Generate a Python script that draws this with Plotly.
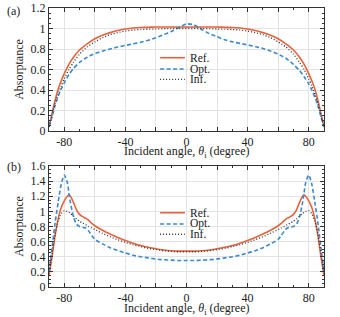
import plotly.graph_objects as go
from plotly.subplots import make_subplots

# ---------------- data ----------------
angles_a = [-90, -88, -86, -84, -82, -80, -77, -74, -70, -65, -60, -55, -50, -45, -40, -35, -30, -25, -20, -15, -10, -5, 0,
            5, 10, 15, 20, 25, 30, 35, 40, 45, 50, 55, 60, 65, 70, 74, 77, 80, 82, 84, 86, 88, 90]
ref_a = [0.04, 0.17, 0.30, 0.41, 0.49, 0.56, 0.65, 0.72, 0.79, 0.85, 0.90, 0.935, 0.96, 0.98, 0.995, 1.005, 1.01, 1.012, 1.015, 1.015, 1.015, 1.015, 1.015,
         1.015, 1.015, 1.015, 1.015, 1.012, 1.01, 1.005, 0.995, 0.98, 0.96, 0.935, 0.90, 0.85, 0.79, 0.72, 0.65, 0.56, 0.49, 0.41, 0.30, 0.17, 0.04]
opt_a = [0.04, 0.14, 0.25, 0.34, 0.41, 0.47, 0.55, 0.61, 0.67, 0.72, 0.755, 0.78, 0.80, 0.82, 0.835, 0.85, 0.865, 0.885, 0.91, 0.94, 0.97, 1.01, 1.045,
         1.035, 0.99, 0.95, 0.92, 0.89, 0.87, 0.855, 0.84, 0.825, 0.805, 0.78, 0.75, 0.71, 0.65, 0.59, 0.53, 0.46, 0.40, 0.33, 0.25, 0.14, 0.04]
inf_a = [0.04, 0.15, 0.27, 0.36, 0.44, 0.51, 0.60, 0.67, 0.75, 0.82, 0.87, 0.91, 0.94, 0.96, 0.975, 0.985, 0.99, 0.993, 0.995, 0.998, 1.0, 1.0, 1.0,
         1.0, 1.0, 0.998, 0.995, 0.993, 0.99, 0.985, 0.975, 0.96, 0.94, 0.91, 0.87, 0.82, 0.75, 0.67, 0.60, 0.51, 0.44, 0.36, 0.27, 0.15, 0.04]

angles_b = [-90, -88, -86, -84, -82, -80, -78, -77, -76, -74, -72, -70, -68, -66, -64, -62, -60, -55, -50, -45, -40, -35, -30, -25, -20, -15, -10, -5, 0,
            5, 10, 15, 20, 25, 30, 35, 40, 45, 50, 55, 60, 62, 64, 66, 68, 70, 72, 74, 76, 77, 78, 80, 82, 84, 86, 88, 90]
ref_b = [0.15, 0.40, 0.68, 0.90, 1.05, 1.14, 1.20, 1.215, 1.20, 1.12, 1.02, 0.96, 0.93, 0.91, 0.88, 0.84, 0.81, 0.75, 0.70, 0.655, 0.615, 0.58, 0.55, 0.525, 0.505, 0.49, 0.48, 0.475, 0.475,
         0.475, 0.48, 0.49, 0.505, 0.525, 0.55, 0.58, 0.615, 0.655, 0.70, 0.75, 0.81, 0.84, 0.88, 0.91, 0.93, 0.96, 1.02, 1.12, 1.20, 1.215, 1.20, 1.14, 1.05, 0.90, 0.68, 0.40, 0.15]
opt_b = [0.20, 0.52, 0.85, 1.12, 1.36, 1.48, 1.38, 1.25, 1.12, 0.93, 0.83, 0.80, 0.79, 0.78, 0.74, 0.68, 0.63, 0.57, 0.52, 0.48, 0.45, 0.42, 0.40, 0.385, 0.37, 0.36, 0.355, 0.35, 0.35,
         0.35, 0.355, 0.36, 0.37, 0.385, 0.40, 0.42, 0.45, 0.48, 0.52, 0.57, 0.63, 0.68, 0.74, 0.78, 0.79, 0.80, 0.83, 0.93, 1.12, 1.25, 1.38, 1.48, 1.36, 1.12, 0.85, 0.52, 0.20]
inf_b = [0.20, 0.45, 0.70, 0.87, 0.97, 1.01, 1.0, 0.99, 0.97, 0.94, 0.90, 0.87, 0.845, 0.825, 0.80, 0.78, 0.76, 0.71, 0.665, 0.625, 0.59, 0.56, 0.535, 0.51, 0.495, 0.48, 0.47, 0.465, 0.465,
         0.465, 0.47, 0.48, 0.495, 0.51, 0.535, 0.56, 0.59, 0.625, 0.665, 0.71, 0.76, 0.78, 0.80, 0.825, 0.845, 0.87, 0.90, 0.94, 0.97, 0.99, 1.0, 1.01, 0.97, 0.87, 0.70, 0.45, 0.20]

series_names = ["Ref.", "Opt.", "Inf."]
x_tickvals = [-80, -60, -40, -20, 0, 20, 40, 60, 80]
x_ticktext = ["-80", "", "-40", "", "0", "", "40", "", "80"]
ya_tickvals = [0, 0.2, 0.4, 0.6, 0.8, 1.0, 1.2]
ya_ticktext = ["0", "0.2", "0.4", "0.6", "0.8", "1", "1.2"]
yb_tickvals = [0, 0.2, 0.4, 0.6, 0.8, 1.0, 1.2, 1.4, 1.6]
yb_ticktext = ["0", "0.2", "0.4", "0.6", "0.8", "1", "1.2", "1.4", "1.6"]
x_title = "Incident angle, <i>θ</i><sub>i</sub> (degree)"
y_title = "Absorptance"

# ---------------- styles ----------------
FONT = "Liberation Serif"
C_REF = "#E5633B"
C_OPT = "#3A88D0"
C_INF = "#333333"
styles = [dict(color=C_REF, width=1.6, dash="solid", shape="spline", smoothing=0.6),
          dict(color=C_OPT, width=1.6, dash="4px,2.5px", shape="spline", smoothing=0.6),
          dict(color=C_INF, width=1.3, dash="1px,2px", shape="spline", smoothing=0.6)]

fig = make_subplots(rows=2, cols=1)

for row, xs, ys in [(1, angles_a, (ref_a, opt_a, inf_a)), (2, angles_b, (ref_b, opt_b, inf_b))]:
    for name, y, st in zip(series_names, ys, styles):
        fig.add_trace(go.Scatter(x=xs, y=y, mode="lines", name=name, line=st,
                                 showlegend=False, hoverinfo="skip"), row=row, col=1)

axis_common = dict(showline=True, linecolor="#333", linewidth=1, mirror="allticks",
                   ticks="inside", ticklen=4, tickcolor="#333", tickwidth=1,
                   showgrid=True, gridcolor="#e3e3e3", gridwidth=1, zeroline=False,
                   automargin=False,
                   tickfont=dict(family=FONT, size=12, color="#222"))

for r in (1, 2):
    fig.update_xaxes(range=[-90, 90], tickmode="array", tickvals=x_tickvals, ticktext=x_ticktext,
                     minor=dict(dtick=10, tick0=0, ticks="inside", ticklen=2, tickcolor="#333", showgrid=False),
                     ticklabelstandoff=0,
                     row=r, col=1, **axis_common)
fig.update_yaxes(range=[0, 1.2], domain=[0.559, 1.0], tickmode="array", tickvals=ya_tickvals, ticktext=ya_ticktext,
                 minor=dict(dtick=0.05, tick0=0, ticks="inside", ticklen=2, tickcolor="#333", showgrid=False),
                 title=dict(text=y_title, font=dict(family=FONT, size=12, color="#222"), standoff=4),
                 row=1, col=1, **axis_common)
fig.update_yaxes(range=[0, 1.6], domain=[0.0, 0.4337], tickmode="array", tickvals=yb_tickvals, ticktext=yb_ticktext,
                 minor=dict(dtick=0.05, tick0=0, ticks="inside", ticklen=2, tickcolor="#333", showgrid=False),
                 title=dict(text=y_title, font=dict(family=FONT, size=12, color="#222"), standoff=4),
                 row=2, col=1, **axis_common)

# ---------------- legends (drawn inside each panel) ----------------
leg_x0, leg_x1, leg_tx = 0.404, 0.494, 0.505
leg_rows = {"x": [0.596, 0.504, 0.42], "x2": [0.614, 0.521, 0.436]}
shapes, annotations = [], []
for ax, yax in [("x", "y"), ("x2", "y2")]:
    for name, st, yy in zip(series_names, styles, leg_rows[ax]):
        shapes.append(dict(type="line", xref=f"{ax} domain", yref=f"{yax} domain",
                           x0=leg_x0, x1=leg_x1, y0=yy, y1=yy,
                           line=dict(color=st["color"], width=st["width"], dash=st["dash"])))
        annotations.append(dict(text=name, xref=f"{ax} domain", yref=f"{yax} domain",
                                x=leg_tx, y=yy, xanchor="left", yanchor="middle", showarrow=False,
                                font=dict(family=FONT, size=11.5, color="#222")))

# x-axis titles
for ax, yy in [("x", 0.485), ("x2", -0.08)]:
    annotations.append(dict(text=x_title, xref=f"{ax} domain", yref="paper", x=0.5, y=yy,
                            xanchor="center", yanchor="middle", showarrow=False,
                            font=dict(family=FONT, size=12, color="#222")))

annotations += [
    dict(text="(a)", xref="paper", yref="paper", x=-0.16, y=1.02, xanchor="left", yanchor="top",
         showarrow=False, font=dict(family=FONT, size=12, color="#222")),
    dict(text="(b)", xref="paper", yref="paper", x=-0.16, y=0.462, xanchor="left", yanchor="top",
         showarrow=False, font=dict(family=FONT, size=12, color="#222")),
]

fig.update_layout(
    width=340, height=317,
    margin=dict(l=49, r=16, t=8, b=30),
    paper_bgcolor="white", plot_bgcolor="white",
    font=dict(family=FONT, size=12, color="#222"),
    shapes=shapes,
    annotations=annotations,
    hovermode=False,
)

fig.write_html("out.html", config={"displayModeBar": False},
               post_script="document.body.style.margin='0';")
